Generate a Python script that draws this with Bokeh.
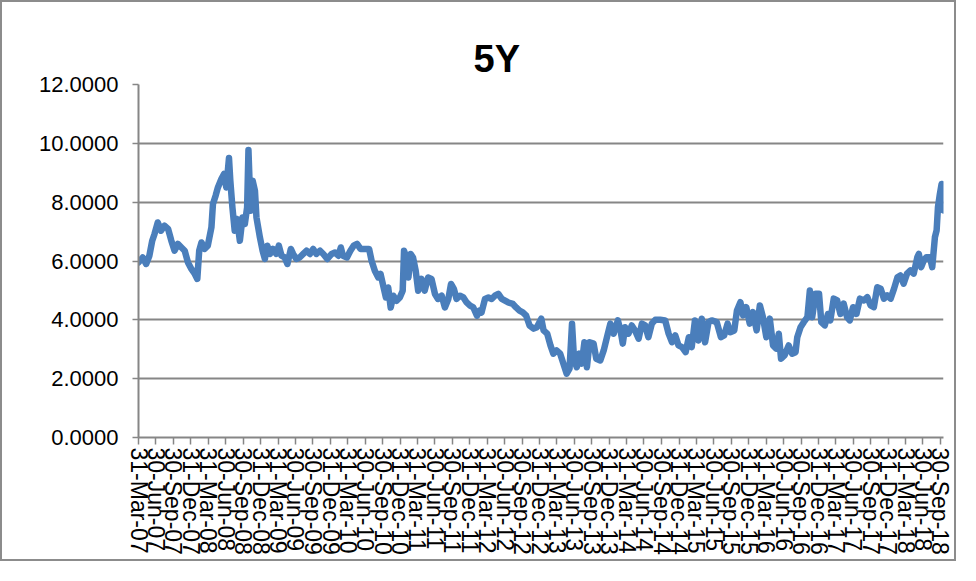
import numpy as np
from datetime import datetime
from bokeh.plotting import figure
from bokeh.models import Range1d, FixedTicker, NumeralTickFormatter
from bokeh.embed import file_html
from bokeh.resources import INLINE

title_text = "5Y"

dates = [
    "2007-03-31", "2007-04-22", "2007-05-10", "2007-05-27", "2007-06-11", "2007-06-23",
    "2007-07-10", "2007-07-27", "2007-08-14", "2007-09-02", "2007-09-19", "2007-10-06",
    "2007-10-23", "2007-11-11", "2007-11-28", "2007-12-15",
    "2008-01-02", "2008-01-20", "2008-02-02", "2008-02-12", "2008-02-24", "2008-03-11",
    "2008-03-28", "2008-04-16", "2008-04-24", "2008-05-08", "2008-05-20", "2008-06-07",
    "2008-06-21", "2008-07-03", "2008-07-17", "2008-07-24", "2008-08-04", "2008-08-16",
    "2008-08-28", "2008-09-12", "2008-09-26", "2008-10-08", "2008-10-20", "2008-10-27",
    "2008-11-07", "2008-11-18", "2008-11-30", "2008-12-08", "2008-12-26",
    "2009-01-09", "2009-01-21", "2009-02-03", "2009-02-17", "2009-03-04", "2009-03-22",
    "2009-04-04", "2009-04-18", "2009-05-05", "2009-05-19", "2009-06-06", "2009-06-18",
    "2009-07-05", "2009-07-22", "2009-08-10", "2009-08-27", "2009-09-14", "2009-10-01",
    "2009-10-18", "2009-11-06", "2009-11-23", "2009-12-14",
    "2010-01-06", "2010-01-23", "2010-02-10", "2010-02-23", "2010-03-06", "2010-03-27",
    "2010-04-14", "2010-05-01", "2010-05-19", "2010-06-06", "2010-06-28", "2010-07-21",
    "2010-08-03", "2010-08-20", "2010-09-07", "2010-09-19", "2010-10-03", "2010-10-17",
    "2010-10-29", "2010-11-11", "2010-11-25", "2010-12-12", "2010-12-29",
    "2011-01-13", "2011-01-20", "2011-02-01", "2011-02-12", "2011-02-24", "2011-03-08",
    "2011-03-22", "2011-04-04", "2011-04-21", "2011-05-08", "2011-05-26", "2011-06-13",
    "2011-07-01", "2011-07-17", "2011-08-05", "2011-08-22", "2011-09-09", "2011-09-23",
    "2011-10-08", "2011-10-22", "2011-11-09", "2011-11-27", "2011-12-14",
    "2012-01-01", "2012-01-18", "2012-02-06", "2012-02-19", "2012-03-01", "2012-03-19",
    "2012-04-06", "2012-04-23", "2012-05-10", "2012-05-28", "2012-06-15", "2012-07-02",
    "2012-07-19", "2012-08-12", "2012-08-29", "2012-09-16", "2012-10-03", "2012-10-21",
    "2012-11-08", "2012-11-29", "2012-12-16",
    "2013-01-08", "2013-01-20", "2013-02-08", "2013-02-25", "2013-03-12", "2013-03-29",
    "2013-04-17", "2013-05-04", "2013-05-21", "2013-06-05", "2013-06-18", "2013-06-29",
    "2013-07-13", "2013-07-26", "2013-08-08", "2013-08-22", "2013-09-04", "2013-09-18",
    "2013-10-09", "2013-10-23", "2013-11-13", "2013-12-01", "2013-12-18",
    "2014-01-05", "2014-01-22", "2014-02-13", "2014-02-27", "2014-03-11", "2014-03-23",
    "2014-04-10", "2014-04-27", "2014-05-14", "2014-06-02", "2014-06-19", "2014-07-06",
    "2014-07-23", "2014-08-10", "2014-08-28", "2014-09-23", "2014-10-19", "2014-11-06",
    "2014-11-24", "2014-12-11", "2014-12-28",
    "2015-01-15", "2015-02-03", "2015-02-20", "2015-03-07", "2015-03-24", "2015-04-11",
    "2015-04-29", "2015-05-16", "2015-06-03", "2015-06-20", "2015-07-16", "2015-08-07",
    "2015-08-24", "2015-09-11", "2015-09-25", "2015-10-16", "2015-10-30", "2015-11-17",
    "2015-12-01", "2015-12-18",
    "2016-01-05", "2016-01-22", "2016-02-10", "2016-02-27", "2016-03-14", "2016-04-01",
    "2016-04-19", "2016-05-06", "2016-05-23", "2016-06-05", "2016-06-17", "2016-07-05",
    "2016-07-27", "2016-08-14", "2016-09-01", "2016-09-10", "2016-09-27", "2016-10-14",
    "2016-11-02", "2016-11-15", "2016-11-27", "2016-12-15",
    "2017-01-02", "2017-01-14", "2017-02-01", "2017-02-18", "2017-03-02", "2017-03-20",
    "2017-04-07", "2017-04-24", "2017-05-11", "2017-05-29", "2017-06-12", "2017-06-29",
    "2017-07-17", "2017-08-04", "2017-08-25", "2017-09-12", "2017-09-29", "2017-10-16",
    "2017-11-03", "2017-11-21", "2017-12-08", "2017-12-25",
    "2018-01-12", "2018-01-30", "2018-02-17", "2018-03-04", "2018-03-21", "2018-04-08",
    "2018-04-26", "2018-05-13", "2018-06-01", "2018-06-09", "2018-06-21", "2018-07-05",
    "2018-07-19", "2018-08-06", "2018-08-18", "2018-09-01", "2018-09-10", "2018-09-17",
    "2018-09-27", "2018-10-06", "2018-10-15",
]

values = [
    5.95, 6.12, 5.90, 6.18, 6.69, 6.92,
    7.31, 7.03, 7.20, 7.09, 6.69, 6.35,
    6.58, 6.46, 6.35, 5.95,
    5.73, 5.56, 5.39, 6.35, 6.63, 6.41,
    6.52, 7.14, 7.94, 8.22, 8.50, 8.79,
    8.96, 8.50, 9.50, 8.73, 7.82, 7.03,
    7.43, 6.69, 7.48, 7.26, 7.82, 9.77,
    7.71, 8.73, 8.39, 7.48, 6.80,
    6.35, 6.07, 6.52, 6.24, 6.41, 6.24,
    6.52, 6.18, 6.12, 5.90, 6.41, 6.24,
    6.07, 6.12, 6.24, 6.35, 6.24, 6.41,
    6.24, 6.35, 6.24, 6.07,
    6.24, 6.29, 6.18, 6.46, 6.18, 6.12,
    6.35, 6.52, 6.58, 6.41, 6.41, 6.41,
    6.01, 5.67, 5.44, 5.56, 5.16, 4.76,
    5.10, 4.42, 4.82, 4.65, 4.76,
    4.99, 6.35, 6.12, 5.44, 6.24, 6.12,
    5.67, 4.99, 5.39, 4.99, 5.44, 5.39,
    4.88, 4.71, 4.82, 4.42, 4.71, 5.22,
    5.05, 4.71, 4.82, 4.76, 4.59,
    4.48, 4.42, 4.14, 4.31, 4.25, 4.71,
    4.76, 4.71, 4.82, 4.88, 4.71, 4.65,
    4.59, 4.54, 4.42, 4.31, 4.25, 4.14,
    3.80, 3.70, 3.75,
    4.04, 3.64, 3.53, 3.13, 2.85, 2.96,
    2.85, 2.51, 2.17, 2.34, 3.87, 2.62,
    2.39, 2.85, 2.51, 3.24, 2.39, 3.24,
    3.19, 2.68, 2.62, 2.96, 3.41,
    3.87, 3.53, 3.98, 3.64, 3.19, 3.75,
    3.53, 3.81, 3.64, 3.36, 3.87, 3.81,
    3.41, 3.87, 4.00, 4.00, 3.98, 3.53,
    3.24, 3.47, 3.13,
    3.07, 2.90, 3.41, 3.07, 3.98, 3.30,
    4.04, 3.24, 3.92, 3.98, 3.92, 3.41,
    3.47, 3.87, 3.58, 3.64, 4.32, 4.60,
    4.15, 4.43,
    3.87, 4.26, 3.64, 4.49, 4.09, 3.41,
    4.04, 3.13, 3.02, 3.53, 2.68, 2.79,
    3.13, 2.85, 2.90, 3.41, 3.75, 3.92,
    4.09, 5.00, 4.09, 4.89,
    4.89, 3.92, 3.81, 4.20, 3.98, 4.72,
    4.66, 4.20, 4.55, 4.09, 3.98, 4.43,
    4.20, 4.72, 4.66, 4.77, 4.49, 4.43,
    5.11, 5.06, 4.72, 4.83,
    4.72, 5.06, 5.45, 5.51, 5.23, 5.57,
    5.68, 5.57, 6.13, 6.24, 5.79, 6.02,
    6.13, 6.13, 5.79, 6.81, 7.04, 7.83,
    8.28, 8.62, 7.72,
]

quarter_ends = ["31-Mar", "30-Jun", "30-Sep", "31-Dec"]
tick_labels = [f"{q}-{yy:02d}" for yy in range(7, 19) for q in quarter_ends][:47]
y_ticks = [0, 2, 4, 6, 8, 10, 12]
x_start_date = "2007-03-31"
x_end_date = "2018-10-16"

def to_ms(d):
    return int(np.datetime64(d, "ms").astype("int64"))

x_ms = [to_ms(d) for d in dates]
tick_ms = [to_ms(datetime.strptime(t, "%d-%b-%y").strftime("%Y-%m-%d")) for t in tick_labels]

GRAY = "#868686"
BLUE = "#4a7ebb"

# canvas 956x561 plus a 2px CSS border on every side -> 960x565 overall
p = figure(width=956, height=561, output_backend="svg", toolbar_location=None,
           x_range=Range1d(to_ms(x_start_date), to_ms(x_end_date)),
           y_range=Range1d(0, 12),
           min_border_left=136, min_border_right=15, min_border_top=82, min_border_bottom=126)
p.outline_line_color = None
p.background_fill_color = "white"
p.border_fill_color = "white"
p.styles = {"border": "2px solid #8c8c8c"}

p.line(x_ms, values, line_color=BLUE, line_width=6.5, line_join="round", line_cap="round")

p.title.text = title_text
p.title.text_font = "Liberation Sans"
p.title.text_font_style = "bold"
p.title.text_font_size = "38px"
p.title.text_color = "black"
p.title.align = "left"
p.title.offset = 335
p.title.text_line_height = 0.8
p.title.standoff = 10

xa = p.xaxis[0]
xa.ticker = FixedTicker(ticks=tick_ms)
xa.major_label_overrides = {t: l for t, l in zip(tick_ms, tick_labels)}
xa.major_label_orientation = "vertical"
xa.major_label_text_font = "Liberation Sans"
xa.major_label_text_font_size = "23px"
xa.major_label_text_color = "black"
xa.major_label_standoff = 3
xa.major_tick_in = 0
xa.major_tick_out = 7
xa.minor_tick_line_color = None
xa.axis_line_color = GRAY
xa.axis_line_width = 2
xa.major_tick_line_color = GRAY
xa.major_tick_line_width = 1.5

ya = p.yaxis[0]
ya.ticker = FixedTicker(ticks=y_ticks)
ya.formatter = NumeralTickFormatter(format="0.0000")
ya.major_label_text_font = "Liberation Sans"
ya.major_label_text_font_size = "22px"
ya.major_label_text_color = "black"
ya.major_label_standoff = 14
ya.major_tick_in = 0
ya.major_tick_out = 6
ya.minor_tick_line_color = None
ya.axis_line_color = GRAY
ya.axis_line_width = 2
ya.major_tick_line_color = GRAY
ya.major_tick_line_width = 1.5

p.xgrid.visible = False
p.ygrid.ticker = FixedTicker(ticks=y_ticks)
p.ygrid.grid_line_color = GRAY
p.ygrid.grid_line_width = 2

open("out.html", "w").write(file_html(p, INLINE))
